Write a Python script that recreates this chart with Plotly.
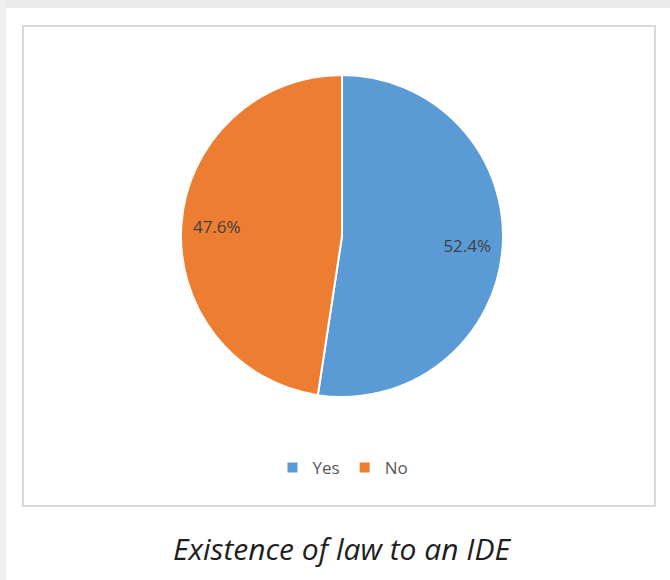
import plotly.graph_objects as go

labels = ["Yes", "No"]
values = [52.4, 47.6]
colors = ["#5B9BD5", "#ED7D31"]
caption = "Existence of law to an IDE"

W, H = 670, 580
def px(x): return x / W
def py(y): return 1 - y / H

dom = dict(x=[px(181), px(503)], y=[py(397), py(75)])

fig = go.Figure()
# filled pie (no text)
fig.add_trace(go.Pie(
    labels=labels, values=values, sort=False, direction="clockwise", rotation=0,
    marker=dict(colors=colors, line=dict(color="white", width=2)),
    textinfo="none", hoverinfo="label+percent", domain=dom,
))
# transparent ring overlay to place labels near the outer edge
fig.add_trace(go.Pie(
    labels=labels, values=values, sort=False, direction="clockwise", rotation=0,
    hole=0.56, showlegend=False,
    marker=dict(colors=["rgba(0,0,0,0)"] * len(values), line=dict(width=0)),
    texttemplate="%{value:.1f}%", textposition="inside", insidetextorientation="horizontal",
    textfont=dict(family="Open Sans, sans-serif", size=17, color="#404040"),
    hoverinfo="skip", domain=dom,
))

shapes = [
    dict(type="rect", xref="paper", yref="paper", x0=0, x1=1, y0=py(8), y1=1,
         fillcolor="#ebebeb", line=dict(width=0), layer="below"),
    dict(type="rect", xref="paper", yref="paper", x0=0, x1=px(6), y0=0, y1=1,
         fillcolor="#efefef", line=dict(width=0), layer="below"),
    dict(type="rect", xref="paper", yref="paper", x0=px(23), x1=px(655), y0=py(506), y1=py(26),
         fillcolor="white", line=dict(color="#d9d9d9", width=2), layer="below"),
]

fig.update_layout(
    width=W, height=H, margin=dict(l=0, r=0, t=0, b=0),
    paper_bgcolor="white", plot_bgcolor="white",
    shapes=shapes,
    showlegend=True,
    legend=dict(orientation="h", x=px(343), xanchor="center", y=py(468), yanchor="middle",
                font=dict(family="Open Sans, sans-serif", size=17, color="#595959"),
                bgcolor="rgba(0,0,0,0)", itemwidth=30),
    annotations=[dict(text="<i>" + caption + "</i>", xref="paper", yref="paper",
                      x=px(342), y=py(548), xanchor="center", yanchor="middle", showarrow=False,
                      font=dict(family="Open Sans, sans-serif", size=30, color="#1f1f1f"))],
)

fig.write_html("out.html", config={"displayModeBar": False},
               post_script="document.body.style.margin='0';document.body.style.overflow='hidden';")
